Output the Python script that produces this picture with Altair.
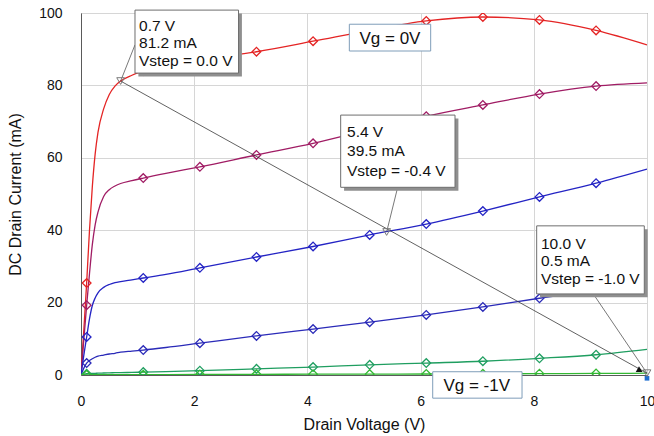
import altair as alt
import pandas as pd

# ---------------- data ----------------
VD = [0, 0.05, 0.1, 0.15, 0.2, 0.25, 0.3, 0.4, 0.5, 0.6, 0.7, 0.9, 1.1, 1.5,
      2.1, 3.1, 4.1, 5.1, 6.1, 7.1, 8.1, 9.1, 10]

ID_VG_0_0 = [0, 12.5, 25.4, 40, 52, 61, 67, 73.5, 77.5, 79.8, 81.2, 82.8, 84.0, 85.6,
             87.2, 89.3, 92.2, 95.2, 97.8, 98.9, 98.1, 95.2, 91.2]
ID_VG_0_2 = [0, 9.8, 19.3, 28, 36, 41.5, 45, 49.3, 51.2, 52.2, 52.9, 53.7, 54.4, 55.7,
             57.5, 60.8, 64.0, 67.8, 71.5, 74.6, 77.6, 79.8, 80.7]
ID_VG_0_4 = [0, 5.5, 10.5, 15.5, 19.2, 21.3, 22.7, 24.2, 25.0, 25.5, 25.8, 26.3, 26.8, 27.8,
             29.6, 32.6, 35.5, 38.7, 41.7, 45.3, 49.2, 53.0, 56.9]
ID_VG_0_6 = [0, 1.9, 3.3, 4.0, 4.5, 4.9, 5.2, 5.5, 5.8, 6.0, 6.3, 6.6, 6.9, 7.6,
             8.8, 10.8, 12.7, 14.6, 16.6, 18.8, 21.2, 23.3, 25.3]
ID_VG_0_8 = [0, 0.2, 0.35, 0.4, 0.43, 0.46, 0.5, 0.55, 0.6, 0.63, 0.66, 0.72, 0.8, 0.95,
             1.2, 1.7, 2.2, 2.8, 3.3, 3.8, 4.6, 5.6, 7.1]
ID_VG_1_0 = [0, 0.02, 0.05, 0.06, 0.07, 0.07, 0.08, 0.08, 0.09, 0.09, 0.1, 0.1, 0.1, 0.12,
             0.15, 0.2, 0.22, 0.25, 0.28, 0.32, 0.37, 0.43, 0.5]

SERIES = ["Vstep = 0.0 V", "Vstep = -0.2 V", "Vstep = -0.4 V",
          "Vstep = -0.6 V", "Vstep = -0.8 V", "Vstep = -1.0 V"]
SERIES_VALUES = [ID_VG_0_0, ID_VG_0_2, ID_VG_0_4, ID_VG_0_6, ID_VG_0_8, ID_VG_1_0]
COLORS = ["#e42424", "#a01c64", "#2424c4", "#2a2ab8", "#1f9e60", "#33b833"]

MARKER_VD = [0.1, 1.1, 2.1, 3.1, 4.1, 5.1, 6.1, 7.1, 8.1, 9.1]

# readouts (marker points)
READ_VD = [0.7, 5.4, 10.0]
READ_ID = [81.2, 39.5, 0.5]
READ_STEP = ["0.0", "-0.4", "-1.0"]

X_TICKS = [0, 2, 4, 6, 8, 10]
Y_TICKS = [0, 20, 40, 60, 80, 100]

# ---------------- tables ----------------
rows = []
for si, (name, vals) in enumerate(zip(SERIES, SERIES_VALUES)):
    for k, (v, i) in enumerate(zip(VD, vals)):
        rows.append({"vd": v, "id": i, "series": name, "k": k})
curves = pd.DataFrame(rows)
markers = curves[curves["vd"].isin(MARKER_VD)]

readouts = pd.DataFrame({"vd": READ_VD, "id": READ_ID})
load_line = pd.DataFrame({"vd": [READ_VD[0]], "id": [READ_ID[0]],
                          "vd2": [READ_VD[-1]], "id2": [READ_ID[-1]]})

# annotation boxes (data coordinates)
BOX_X1 = [0.954, 4.588, 8.051]
BOX_X2 = [2.783, 6.608, 9.952]
BOX_Y1 = [100.8, 71.8, 41.2]
BOX_Y2 = [83.4, 51.85, 22.4]
boxes = pd.DataFrame({"x1": BOX_X1, "x2": BOX_X2, "y1": BOX_Y1, "y2": BOX_Y2})
shadows = boxes.assign(x1=boxes.x1 + 0.06, x2=boxes.x2 + 0.06,
                       y1=boxes.y1 - 0.95, y2=boxes.y2 - 0.95)

TEXT_X = [1.025, 4.70, 8.127]
TEXT_Y = [[96.4, 91.6, 86.7], [67.0, 61.9, 56.4], [36.2, 31.4, 26.6]]
trow = []
for b in range(3):
    lines = [f"{READ_VD[b]:.1f} V", f"{READ_ID[b]:.1f} mA", f"Vstep = {READ_STEP[b]} V"]
    for j, t in enumerate(lines):
        trow.append({"x": TEXT_X[b], "y": TEXT_Y[b][j], "t": t})
box_text = pd.DataFrame(trow)

connectors = pd.DataFrame({"x": [0.954, 5.595, 9.051], "y": [91.2, 51.85, 22.4],
                           "x2": READ_VD, "y2": READ_ID})

LABELS = ["Vg = 0V", "Vg = -1V"]
LAB_X = [5.459, 6.991]
LAB_Y = [92.8, -3.0]
lab_boxes = pd.DataFrame({"x1": [4.741, 6.214], "x2": [6.178, 7.792],
                          "y1": [96.9, 0.9], "y2": [89.5, -6.4]})
lab_text = pd.DataFrame({"x": LAB_X, "y": LAB_Y, "t": LABELS})

arrow = pd.DataFrame({"vd": [9.875], "id": [1.25]})
corner = pd.DataFrame({"vd": [10.0], "id": [-0.9]})

# ---------------- encodings ----------------
FONT = "Liberation Sans"
xs = alt.Scale(domain=[0, 10], nice=False, zero=False)
ys = alt.Scale(domain=[0, 100], nice=False, zero=False)
x_axis = alt.Axis(values=X_TICKS, title="Drain Voltage (V)", labelFlush=False,
                  labelPadding=19, titlePadding=8)
y_axis = alt.Axis(values=Y_TICKS, title="DC Drain Current (mA)", labelFlush=False,
                  labelPadding=19, titlePadding=15)


def X(field):
    return alt.X(f"{field}:Q", scale=xs, axis=x_axis)


def Y(field):
    return alt.Y(f"{field}:Q", scale=ys, axis=y_axis)


color = alt.Color("series:N", scale=alt.Scale(domain=SERIES, range=COLORS), legend=None)

lines = alt.Chart(curves).mark_line(clip=True, strokeWidth=1.3, interpolate="monotone").encode(
    x=X("vd"), y=Y("id"), color=color, order="k:Q")

pts = alt.Chart(markers).mark_point(clip=True, shape="diamond", filled=False, size=75,
                                    strokeWidth=1.3, opacity=1).encode(
    x=X("vd"), y=Y("id"), color=color)

load = alt.Chart(load_line).mark_rule(color="#3a3a3a", strokeWidth=0.8).encode(
    x=X("vd"), y=Y("id"), x2="vd2:Q", y2="id2:Q")

arrow_head = alt.Chart(arrow).mark_point(shape="triangle-right", filled=True, size=45,
                                         angle=29, color="#111111", opacity=1).encode(
    x=X("vd"), y=Y("id"))

corner_pt = alt.Chart(corner).mark_point(shape="square", filled=True, size=22,
                                         color="#1e6fd0", opacity=1).encode(
    x=X("vd"), y=Y("id"))

conn = alt.Chart(connectors).mark_rule(color="#555555", strokeWidth=0.8).encode(
    x=X("x"), y=Y("y"), x2="x2:Q", y2="y2:Q")

tri = alt.Chart(readouts).mark_point(shape="triangle-down", filled=False, size=60,
                                     strokeWidth=1, color="#7a7a7a", opacity=1).encode(
    x=X("vd"), y=Y("id"))

shadow = alt.Chart(shadows).mark_rect(color="#8f8f8f").encode(
    x=X("x1"), x2="x2:Q", y=Y("y1"), y2="y2:Q")

box = alt.Chart(boxes).mark_rect(fill="white", stroke="#6e6e6e", strokeWidth=1).encode(
    x=X("x1"), x2="x2:Q", y=Y("y1"), y2="y2:Q")

btext = alt.Chart(box_text).mark_text(align="left", baseline="middle", font=FONT,
                                      fontSize=15.5, color="#111111").encode(
    x=X("x"), y=Y("y"), text="t:N")

lbox = alt.Chart(lab_boxes).mark_rect(fill="white", stroke="#7f9db9", strokeWidth=1).encode(
    x=X("x1"), x2="x2:Q", y=Y("y1"), y2="y2:Q")

ltext = alt.Chart(lab_text).mark_text(align="center", baseline="middle", font=FONT,
                                      fontSize=17, color="#111111").encode(
    x=X("x"), y=Y("y"), text="t:N")

chart = alt.layer(lines, pts, load, arrow_head, corner_pt, conn, tri, shadow, box, btext,
                  lbox, ltext).properties(
    width=566, height=362,
    autosize=alt.AutoSizeParams(type="none"),
    padding={"left": 81, "top": 13, "right": 7, "bottom": 61},
    background="white",
).configure_view(
    stroke="#5a5a5a", strokeWidth=1
).configure_axis(
    grid=True, gridColor="#d6d6d6", gridWidth=1,
    domainColor="#5a5a5a", ticks=False, tickSize=0,
    labelFont=FONT, labelFontSize=14, labelColor="#111111",
    titleFont=FONT, titleFontSize=16, titleFontWeight="normal", titleColor="#111111",
)

chart.save("out.html", embed_options={"renderer": "svg", "actions": False})
